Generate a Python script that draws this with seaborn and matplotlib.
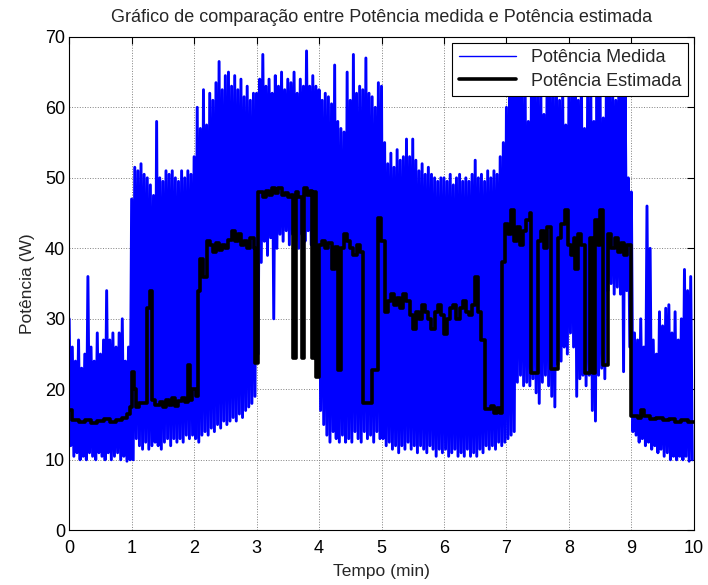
import numpy as np
import pandas as pd
import matplotlib
matplotlib.use("Agg")
import matplotlib.pyplot as plt
import seaborn as sns

# Measured power: local maxima / minima read every 0.05 min
medida_hi = [
    30, 26, 24, 27, 23, 25, 36, 26, 24, 28, 25, 27, 34, 27, 28, 26, 28, 30, 24, 26,
    47, 51.5, 51, 52, 50.5, 50, 49, 47.5, 58, 50, 49.5, 51, 50.5, 51, 50, 49.5, 51, 50, 51, 50.5,
    53, 60, 57, 62.5, 57.5, 62, 61, 63.5, 66.5, 62.5, 64.5, 65, 63, 64.5, 62.5, 64, 61.5, 63, 61, 62,
    62, 64, 67.5, 63, 64, 62, 64.5, 63, 65, 62.5, 64, 63.5, 65, 62, 64, 63, 68, 63, 64.5, 63,
    62.5, 61, 62, 61.5, 60.5, 66, 58, 57, 56.5, 65, 61, 67.5, 62, 63, 62.5, 67, 62, 61.5, 60, 63.5,
    63, 55, 52, 53.5, 51.5, 54, 52.5, 53, 55.5, 53, 55.5, 52.5, 51, 52, 50.5, 51.5, 50.5, 50, 49.5, 50,
    50, 49.5, 50.5, 49, 50, 50.5, 49.5, 50, 49.5, 50.5, 52.5, 50, 50.5, 49.5, 51, 50, 51, 50.5, 53, 55,
    60, 64, 65, 63, 66, 64, 62, 58, 63, 65, 62, 64, 59, 63, 65, 62, 64, 61, 63, 57.5,
    62, 64, 63, 61, 65, 57, 62, 64, 58, 63, 62, 58.5, 64, 62, 63, 61, 64, 62, 63, 50,
    48, 28, 27, 30, 26, 46, 40, 27, 25, 31, 29, 31.5, 32, 28, 31, 27, 30, 37, 34, 36,
]
medida_lo = [
    12, 10.5, 11, 10, 10.5, 10, 11, 10.5, 10, 11, 10.5, 10, 11, 10, 10.5, 11, 10, 10.5, 9.8, 10,
    10, 13, 12, 11.5, 12.5, 11.5, 12, 12.5, 12, 11.5, 12.5, 13, 12, 13, 12.5, 13, 12.5, 13.5, 13, 13.5,
    13, 12.5, 13.5, 14, 13.5, 14.5, 14, 15, 14.5, 15.5, 15, 15.5, 16, 15.5, 16.5, 16, 17, 17.5, 18, 19,
    25, 38, 41, 39, 41.5, 30, 40, 42, 41, 42.5, 40.5, 42, 41, 40, 42, 41, 42.5, 40.5, 41.5, 40,
    17, 15, 13.5, 12.5, 14, 13, 12.5, 13.5, 12.5, 13, 12.5, 14, 13, 12.5, 14, 13, 13.5, 12.5, 14, 13,
    13, 12, 12.5, 11.5, 12, 11, 12, 11.5, 12.5, 11.5, 12, 11, 12, 11.5, 11, 12, 11.5, 10.5, 11.5, 11,
    11.5, 10.5, 11, 11.5, 10.5, 11, 10.5, 11.5, 10.5, 11, 10.5, 11.5, 11, 12, 11.5, 12, 11.5, 12.5, 12, 12.5,
    13, 13.5, 14, 21, 22, 20.5, 21, 20.5, 21.5, 19.5, 18, 21, 22, 20.5, 19, 17.5, 23.5, 24, 26, 25,
    28, 26, 19, 21.5, 22, 20.5, 22, 17, 15.5, 22, 23, 21.5, 34, 35, 33.5, 34.5, 33.5, 22.5, 34, 26,
    14, 13.5, 12.5, 13, 12, 12.5, 11.5, 12, 11, 11.5, 10.5, 11, 10, 10.5, 10, 10.5, 10, 10.5, 9.8, 10,
]

# Estimated power: step breakpoints (time in min, value in W)
est_t = [
    0, 0.05, 0.15, 0.25, 0.35, 0.45, 0.55, 0.65, 0.75, 0.85, 0.92, 0.97,
    1.0, 1.03, 1.07, 1.12, 1.25, 1.3, 1.33, 1.38, 1.45, 1.5, 1.55, 1.6, 1.65, 1.7, 1.75, 1.8, 1.85,
    1.9, 1.93, 1.97, 2.03, 2.06, 2.09, 2.14, 2.2, 2.25, 2.3, 2.35, 2.4, 2.45, 2.5, 2.55, 2.6, 2.65,
    2.7, 2.75, 2.8, 2.85, 2.9, 2.96, 2.98,
    3.02, 3.1, 3.15, 3.2, 3.25, 3.3, 3.35, 3.4, 3.45, 3.5, 3.55, 3.58, 3.63, 3.66, 3.72, 3.76, 3.8,
    3.85, 3.88, 3.92, 3.95,
    4.0, 4.05, 4.1, 4.15, 4.2, 4.25, 4.3, 4.35, 4.4, 4.45, 4.5, 4.55, 4.6, 4.65, 4.7, 4.85, 4.95, 4.99,
    5.05, 5.1, 5.15, 5.2, 5.25, 5.3, 5.35, 5.4, 5.45, 5.5, 5.55, 5.6, 5.65, 5.7, 5.75, 5.8, 5.85, 5.9,
    5.95, 6.0, 6.05, 6.1, 6.15, 6.2, 6.25, 6.3, 6.35, 6.4, 6.45, 6.5, 6.55, 6.6, 6.66, 6.75, 6.8, 6.85,
    6.9, 6.93, 6.97,
    7.03, 7.08, 7.12, 7.17, 7.22, 7.27, 7.32, 7.37, 7.4, 7.5, 7.55, 7.6, 7.65, 7.72, 7.83, 7.88, 7.93,
    7.98, 8.03, 8.08, 8.1, 8.15, 8.2, 8.25, 8.33, 8.38, 8.42, 8.47, 8.5, 8.55, 8.62, 8.68, 8.73, 8.78,
    8.83, 8.88, 8.93,
    9.0, 9.1, 9.15, 9.2, 9.3, 9.4, 9.5, 9.6, 9.7, 9.8, 9.9, 10.0,
]
est_v = [
    17, 15.6, 15.3, 15.6, 15.2, 15.5, 15.8, 15.4, 15.6, 15.9, 16.5, 17.5,
    22.5, 20, 17.5, 18, 31.5, 34, 18.5, 17.8, 18.2, 17.5, 18.5, 17.8, 18.8, 17.6, 18.3, 18.8, 18.2,
    23.5, 18.5, 20, 19, 34, 38.5, 36, 41, 40.5, 39.5, 40.8, 39.8, 40.5, 40, 41.2, 42.5, 41,
    42, 40.5, 41, 40, 41.5, 40, 23.8,
    48, 47.3, 48.2, 47.5, 48.5, 47.8, 48.5, 47.6, 47.9, 47.3, 47.5, 24.4, 48, 47.3, 24.4, 48.5, 47.5,
    48.2, 24.4, 48, 21.8,
    40.5, 41, 40, 40.8, 37, 40.2, 22.7, 40, 42, 41, 40, 39, 40.5, 39.5, 18, 22.7, 44.3, 41,
    31, 32.5, 33.5, 32, 33, 31.5, 33.5, 32.5, 30.5, 28.5, 31, 30, 32, 31, 30, 28.5, 31, 32,
    30.5, 27.8, 30, 31.5, 32, 30, 31.5, 32.5, 31, 30.5, 32, 36, 31, 27, 17.2, 17.6, 16.7, 17.4,
    16.6, 38, 43.5,
    42, 45.5, 41, 43, 40.5, 42.5, 44, 45, 22.3, 41, 42.5, 40, 43, 22.9, 41.5, 43.5, 45.5,
    40.5, 39, 41.5, 37, 42, 40.5, 22.3, 41.5, 22.3, 44, 40.5, 45.5, 23.4, 42, 40, 41.5, 39.5,
    40.8, 39, 40.5,
    16.2, 16, 17, 16.2, 15.8, 16, 15.6, 15.8, 15.4, 15.6, 15.3, 15.3,
]

x_ticks = list(range(0, 11))
y_ticks = list(range(0, 71, 10))

# build the measured signal by alternating maxima and minima
n = len(medida_hi)
t_hi = np.arange(n) * 0.05
t_lo = t_hi + 0.025
tempo = np.empty(2 * n)
valor = np.empty(2 * n)
tempo[0::2] = t_hi
tempo[1::2] = t_lo
valor[0::2] = medida_hi
valor[1::2] = medida_lo
df_med = pd.DataFrame({"t": tempo, "p": valor})
df_est = pd.DataFrame({"t": est_t, "p": est_v})

sns.set_theme(style="white")
plt.rcParams["font.family"] = ["Liberation Sans", "DejaVu Sans"]

fig = plt.figure(figsize=(7.08, 5.85), dpi=100)
ax = fig.add_axes([0.0977, 0.0935, 0.8823, 0.8435])

sns.lineplot(data=df_med, x="t", y="p", ax=ax, color="#0000ff", linewidth=2.1,
             label="Potência Medida", estimator=None, sort=False)
sns.lineplot(data=df_est, x="t", y="p", ax=ax, color="black", linewidth=2.6,
             label="Potência Estimada", estimator=None, sort=False, drawstyle="steps-post")

ax.set_xlim(0, 10)
ax.set_ylim(0, 70)
ax.set_xticks(x_ticks)
ax.set_yticks(y_ticks)
ax.tick_params(direction="in", length=5, width=0.8, top=True, right=True,
               labelsize=13, colors="black")
ax.tick_params(axis="x", pad=7)
ax.tick_params(axis="y", pad=3)
ax.grid(True, color="#808080", linestyle=":", linewidth=0.7)
for s in ax.spines.values():
    s.set_color("black")
    s.set_linewidth(0.8)

ax.set_title("Gráfico de comparação entre Potência medida e Potência estimada",
             fontsize=13, pad=11)
ax.set_xlabel("Tempo (min)", fontsize=12.5, labelpad=5)
ax.set_ylabel("Potência (W)", fontsize=12.5, labelpad=7)

leg = ax.legend(loc="upper right", fontsize=13, frameon=True, fancybox=False,
                framealpha=1, edgecolor="black", borderaxespad=0.35,
                handlelength=3.2, labelspacing=0.35, borderpad=0.35)
leg.get_frame().set_linewidth(0.8)
leg.get_lines()[0].set_linewidth(1.0)

fig.savefig("out.png", dpi=100)
